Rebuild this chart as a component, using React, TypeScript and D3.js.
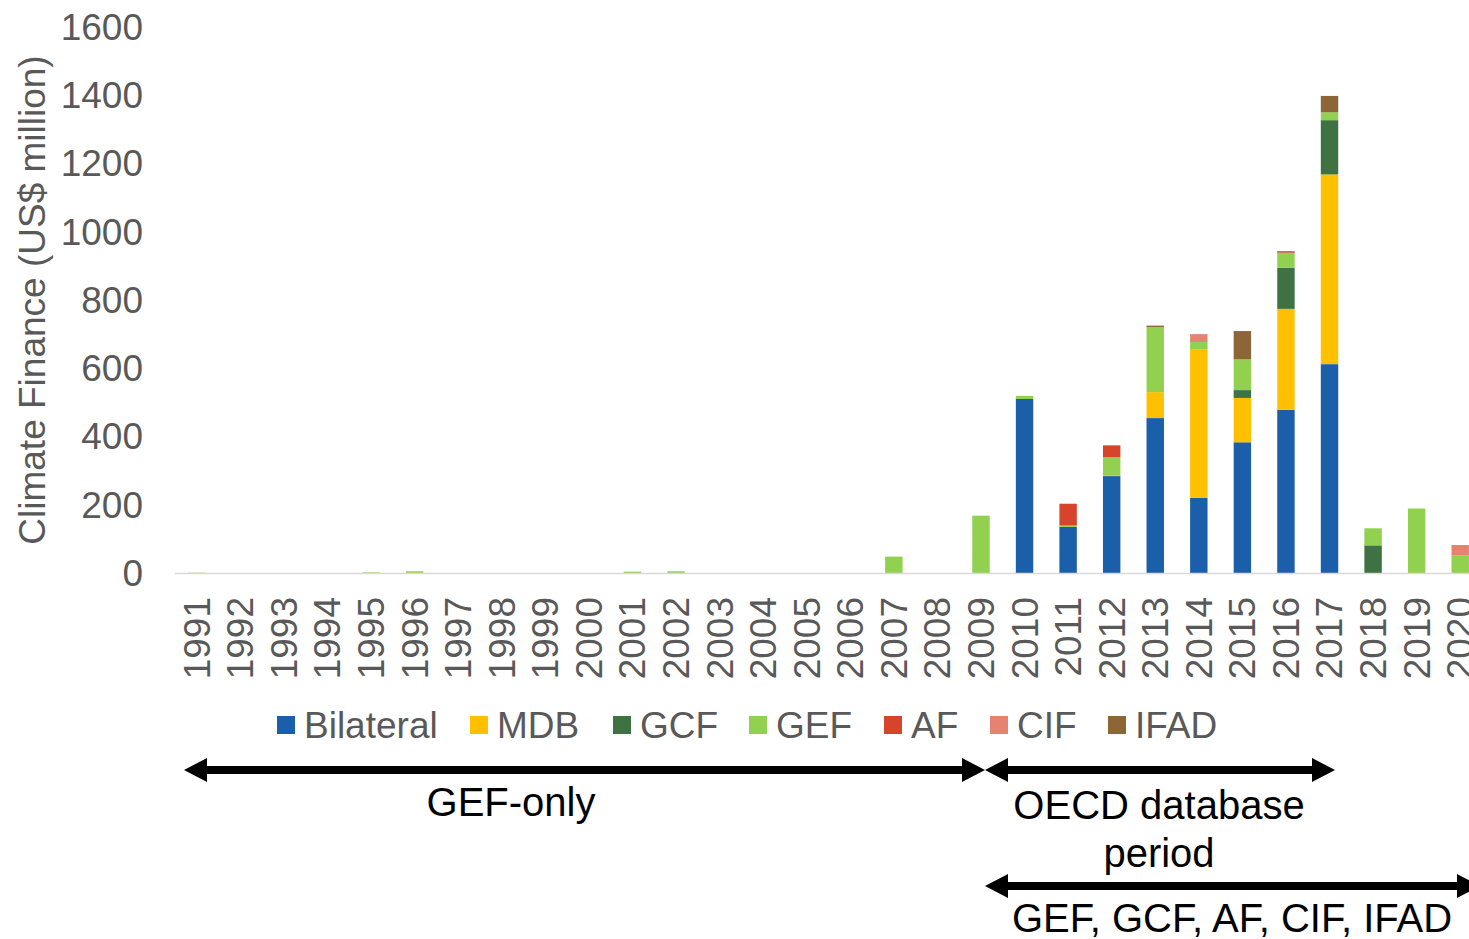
import React from "react";
import * as d3 from "d3";

const years = d3.range(1991, 2021).map(String);
const seriesNames = ["Bilateral", "MDB", "GCF", "GEF", "AF", "CIF", "IFAD"];
const seriesColors = ["#1b5faa", "#ffc000", "#3e7242", "#92d050", "#d6452b", "#e58370", "#8c6636"];

// values per year, 1991..2020
const bilateral = [0,0,0,0,0,0,0,0,0,0,0,0,0,0,0,0,0,0,0,510,135,284,454,220,383,478,612,0,0,0];
const mdb =       [0,0,0,0,0,0,0,0,0,0,0,0,0,0,0,0,0,0,0,0,0,1,76,436,130,296,556,0,0,0];
const gcf =       [0,0,0,0,0,0,0,0,0,0,0,0,0,0,0,0,0,0,0,0,0,0,0,0,23,120,159,81,0,0];
const gef =       [1,0,0,0,2,5,0,0,0,0,4,5,0,0,0,0,48,0,168,9,4,54,191,21,90,44,23,50,189,51];
const af =        [0,0,0,0,0,0,0,0,0,0,0,0,0,0,0,0,0,0,0,0,64,35,0,0,0,2,0,0,0,0];
const cif =       [0,0,0,0,0,0,0,0,0,0,0,0,0,0,0,0,0,0,0,0,0,0,0,23,0,0,0,0,0,31];
const ifad =      [0,0,0,0,0,0,0,0,0,0,0,0,0,0,0,0,0,0,0,0,0,0,4,0,83,3,48,0,0,0];

const yTicks = [0, 200, 400, 600, 800, 1000, 1200, 1400, 1600];

const W = 1469;
const H = 939;
const FONT = "'Liberation Sans', Arial, sans-serif";
const GRAY = "#595959";

export default function App() {
  const seriesData = [bilateral, mdb, gcf, gef, af, cif, ifad];
  const table = years.map((y, i) => {
    const row: any = { year: y };
    seriesNames.forEach((s, k) => (row[s] = seriesData[k][i]));
    return row;
  });
  const stack = d3.stack().keys(seriesNames)(table as any);

  const x = d3.scaleBand().domain(years).range([175, 1482]).paddingInner(0.6).paddingOuter(0.3);
  const y = d3.scaleLinear().domain([0, 1600]).range([573, 27]);

  const legendX = [277, 470, 613, 749, 884, 990, 1108];
  const legendY = 725;

  const arrow = (x1: number, x2: number, yy: number, key: string) => {
    const hl = 23, hh = 12;
    return (
      <g key={key}>
        <line x1={x1 + hl - 2} x2={x2 - hl + 2} y1={yy} y2={yy} stroke="#000" strokeWidth={8} />
        <polygon points={`${x1},${yy} ${x1 + hl},${yy - hh} ${x1 + hl},${yy + hh}`} fill="#000" />
        <polygon points={`${x2},${yy} ${x2 - hl},${yy - hh} ${x2 - hl},${yy + hh}`} fill="#000" />
      </g>
    );
  };

  return (
    <svg width={W} height={H} style={{ position: "absolute", left: 0, top: 0, background: "#fff", overflow: "hidden" }} fontFamily={FONT}>
      <rect width={W} height={H} fill="#fff" />
      {yTicks.map((t) => (
        <text key={t} x={143} y={y(t)} dy="0.35em" textAnchor="end" fontSize={37} fill={GRAY}>
          {t}
        </text>
      ))}
      <text transform={`translate(32,${(y(0) + y(1600)) / 2}) rotate(-90)`} textAnchor="middle" dy="0.35em" fontSize={37} fill={GRAY}>
        Climate Finance (US$ million)
      </text>
      {stack.map((layer, k) => (
        <g key={seriesNames[k]} fill={seriesColors[k]}>
          {layer.map((d, i) =>
            d[1] - d[0] > 0 ? (
              <rect key={i} x={x(years[i])!} y={y(d[1])} width={x.bandwidth()} height={y(d[0]) - y(d[1])} />
            ) : null
          )}
        </g>
      ))}
      <line x1={175} x2={W} y1={y(0) + 0.5} y2={y(0) + 0.5} stroke="#d9d9d9" strokeWidth={1.5} />
      {years.map((yr) => (
        <text
          key={yr}
          transform={`translate(${x(yr)! + x.bandwidth() / 2},597) rotate(-90)`}
          textAnchor="end"
          dy="0.35em"
          fontSize={37}
          fill={GRAY}
        >
          {yr}
        </text>
      ))}
      {seriesNames.map((s, k) => (
        <g key={s}>
          <rect x={legendX[k]} y={legendY - 9} width={18} height={18} fill={seriesColors[k]} />
          <text x={legendX[k] + 27} y={legendY} dy="0.35em" fontSize={37} fill={GRAY}>
            {s}
          </text>
        </g>
      ))}
      {arrow(184, 985, 770, "a1")}
      {arrow(985, 1335, 770, "a2")}
      {arrow(985, 1480, 886, "a3")}
      <text x={511} y={802} dy="0.35em" textAnchor="middle" fontSize={40} fill="#000">GEF-only</text>
      <text x={1159} y={805} dy="0.35em" textAnchor="middle" fontSize={40} fill="#000">OECD database</text>
      <text x={1159} y={853} dy="0.35em" textAnchor="middle" fontSize={40} fill="#000">period</text>
      <text x={1232} y={918} dy="0.35em" textAnchor="middle" fontSize={40} fill="#000">GEF, GCF, AF, CIF, IFAD</text>
    </svg>
  );
}
